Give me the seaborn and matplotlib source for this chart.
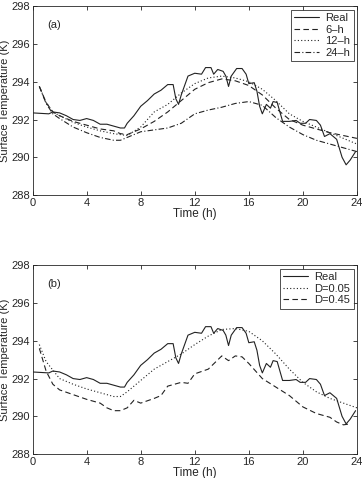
import numpy as np
import pandas as pd
import matplotlib
matplotlib.use("Agg")
import matplotlib.pyplot as plt
import seaborn as sns

# Observed ("Real") surface temperature
real_t = [0, 1.2, 1.5, 2, 2.5, 3, 3.5, 4, 4.5, 5, 5.5, 6, 6.5, 6.8, 7, 7.5, 8, 8.5, 9, 9.5, 10, 10.4,
          10.6, 10.8, 11, 11.5, 12, 12.5, 12.8, 13.2, 13.4, 13.7, 14.1, 14.3, 14.5, 14.7, 15.1, 15.5,
          15.8, 16.0, 16.4, 16.6, 16.8, 17.0, 17.3, 17.6, 17.8, 18.1, 18.3, 18.5, 19, 19.5, 19.8, 20.2,
          20.5, 21, 21.3, 21.6, 22, 22.5, 22.9, 23.2, 23.5, 23.9]
real_v = [292.35, 292.3, 292.4, 292.35, 292.2, 292.0, 291.95, 292.05, 291.95, 291.75, 291.75, 291.65,
          291.55, 291.55, 291.8, 292.2, 292.7, 293.0, 293.35, 293.55, 293.85, 293.85,
          293.1, 292.8, 293.3, 294.3, 294.45, 294.4, 294.75, 294.75, 294.4, 294.65, 294.55, 294.3,
          293.75, 294.3, 294.7, 294.7, 294.4, 293.9, 293.95, 293.5, 292.7, 292.3, 292.8, 292.6,
          292.95, 292.9, 292.4, 291.9, 291.9, 291.95, 291.8, 291.8, 292.0, 291.95, 291.7, 291.1,
          291.25, 290.95, 290.0, 289.6, 289.85, 290.3]

# Panel (a) forecasts
fc_t = [0.5, 1.0, 1.5, 2, 3, 4, 5, 6, 6.5, 7, 8, 9, 10, 11, 12, 13, 14, 15, 16, 17, 18, 19, 20,
        21, 22, 23, 24]
h6_v = [293.75, 292.9, 292.4, 292.2, 291.9, 291.7, 291.5, 291.4, 291.25, 291.2, 291.5, 291.9, 292.4,
        293.0, 293.6, 293.95, 294.15, 294.05, 293.8, 293.3, 292.6, 292.0, 291.7, 291.5, 291.3,
        291.15, 291.0]
h12_v = [293.75, 292.9, 292.4, 292.2, 291.85, 291.6, 291.4, 291.25, 291.2, 291.15, 291.6, 292.4,
         292.8, 293.4, 293.9, 294.2, 294.3, 294.2, 294.0, 293.6, 293.0, 292.3, 291.9, 291.6, 291.3,
         291.0, 290.7]
h24_v = [293.75, 292.85, 292.3, 292.05, 291.6, 291.3, 291.05, 290.9, 290.9, 291.05, 291.35, 291.45,
         291.55, 291.8, 292.3, 292.5, 292.65, 292.85, 292.95, 292.75, 292.1, 291.6, 291.2, 290.9,
         290.7, 290.5, 290.3]

# Panel (b) forecasts
d05_t = [0.5, 1, 2, 3, 4, 5, 6, 6.5, 7, 8, 9, 10, 11, 12, 13, 14, 15, 16, 17, 18, 19, 20, 21, 22, 23, 24]
d05_v = [293.8, 292.9, 292.0, 291.7, 291.45, 291.25, 291.05, 291.05, 291.3, 291.9, 292.5, 292.9,
         293.3, 293.8, 294.25, 294.6, 294.65, 294.5, 294.0, 293.3, 292.5, 291.8, 291.3, 290.95,
         290.7, 290.45]
d45_t = [0.5, 1, 1.5, 2, 3, 4, 5, 5.5, 6, 6.5, 7, 7.5, 8, 9, 9.5, 10, 11, 11.5, 12, 13, 14, 14.5,
         15, 15.5, 16, 17, 18, 19, 20, 21, 22, 22.5, 23, 23.5]
d45_v = [293.6, 292.4, 291.7, 291.4, 291.15, 290.9, 290.7, 290.45, 290.3, 290.3, 290.45, 290.85,
         290.7, 290.95, 291.1, 291.6, 291.8, 291.75, 292.25, 292.5, 293.2, 292.95, 293.2, 293.15,
         292.8, 292.0, 291.55, 291.1, 290.5, 290.15, 289.95, 289.7, 289.55, 289.6]

xticks = [0, 4, 8, 12, 16, 20, 24]
yticks = [288, 290, 292, 294, 296, 298]

sns.set_style("ticks")
plt.rcParams["font.family"] = ["Liberation Sans", "DejaVu Sans"]
plt.rcParams["xtick.direction"] = "in"
plt.rcParams["ytick.direction"] = "in"

fig = plt.figure(figsize=(3.62, 4.78), dpi=100)
ax1 = fig.add_axes([0.09, 0.592, 0.896, 0.395])
ax2 = fig.add_axes([0.09, 0.050, 0.896, 0.395])

lw = 0.8
c = "#222222"

def style(ax, label):
    ax.set_xlim(0, 24)
    ax.set_ylim(288, 298)
    ax.set_xticks(xticks)
    ax.set_yticks(yticks)
    ax.tick_params(labelsize=8, length=3, width=0.6, top=True, right=True, pad=2)
    for s in ax.spines.values():
        s.set_linewidth(0.6)
    ax.set_xlabel("Time (h)", fontsize=8.5, labelpad=0)
    ax.set_ylabel("Surface Temperature (K)", fontsize=8, labelpad=1)
    ax.text(0.045, 0.9, label, transform=ax.transAxes, fontsize=8, va="center")
    leg = ax.legend(loc="upper right", fontsize=8, frameon=True, fancybox=False,
                    edgecolor="black", handlelength=2.2, borderpad=0.3, labelspacing=0.15,
                    handletextpad=0.6, borderaxespad=0.3)
    leg.get_frame().set_linewidth(0.6)

sns.lineplot(x=real_t, y=real_v, ax=ax1, color=c, lw=lw, label="Real")
sns.lineplot(x=fc_t, y=h6_v, ax=ax1, color=c, lw=lw, linestyle=(0, (5, 3)), label="6\u2013h")
sns.lineplot(x=fc_t, y=h12_v, ax=ax1, color=c, lw=lw, linestyle=(0, (1, 2)), label="12\u2013h")
sns.lineplot(x=fc_t, y=h24_v, ax=ax1, color=c, lw=lw, linestyle=(0, (5, 2, 1, 2)), label="24\u2013h")
style(ax1, "(a)")

sns.lineplot(x=real_t, y=real_v, ax=ax2, color=c, lw=lw, label="Real")
sns.lineplot(x=d05_t, y=d05_v, ax=ax2, color=c, lw=lw, linestyle=(0, (1, 2)), label="D=0.05")
sns.lineplot(x=d45_t, y=d45_v, ax=ax2, color=c, lw=lw, linestyle=(0, (5, 3)), label="D=0.45")
style(ax2, "(b)")

fig.savefig("out.png", dpi=100)
